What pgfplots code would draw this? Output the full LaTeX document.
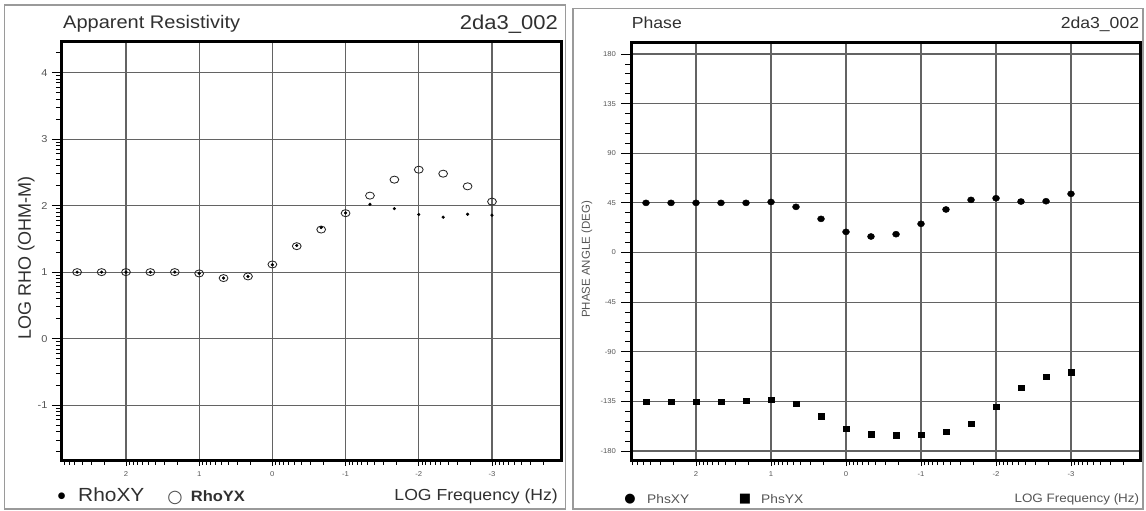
\documentclass[border=0pt]{standalone}
\usepackage{fontspec}
\usepackage{pgfplots}
\usepackage{pgfplotstable}
\pgfplotsset{compat=1.18}
\setmainfont{Liberation Sans}[FakeStretch=1.1]
\newfontfamily\uprightlabel{Liberation Sans}
\newfontfamily\symfont{DejaVu Sans}

\definecolor{titlegray}{HTML}{303030}
\definecolor{ticklab}{HTML}{555555}
\definecolor{gridgray}{HTML}{636363}
\definecolor{framegray}{HTML}{9A9A9A}

% apparent resistivity: log10 frequency, log10 rho (xy, yx)
\pgfplotstableread{
f       rxy     ryx
2.667   1.00    1.00
2.333   1.00    1.00
2.000   1.00    1.00
1.667   1.00    1.00
1.333   1.00    1.00
1.000   0.98    0.98
0.667   0.91    0.91
0.333   0.935   0.935
0.000   1.11    1.115
-0.333  1.40    1.39
-0.667  1.67    1.64
-1.000  1.89    1.886
-1.333  2.02    2.15
-1.667  1.955   2.39
-2.000  1.866   2.54
-2.333  1.826   2.48
-2.667  1.87    2.29
-3.000  1.856   2.06
}\rhotable

% phase in degrees (xy, yx)
\pgfplotstableread{
f       pxy     pyx
2.667   45.0    -135.3
2.333   45.0    -135.3
2.000   45.0    -135.3
1.667   45.0    -135.3
1.333   45.0    -134.6
1.000   45.8    -133.4
0.667   41.4    -137.4
0.333   30.5    -148.5
0.000   18.7    -160.0
-0.333  14.5    -164.8
-0.667  16.6    -165.7
-1.000  26.0    -165.2
-1.333  39.0    -162.7
-1.667  47.7    -154.9
-2.000  49.2    -139.5
-2.333  46.2    -122.5
-2.667  46.5    -112.6
-3.000  53.2    -108.6
}\phasetable

% heavy frame round the plotting area
\tikzset{heavyframe/.style={line width=3pt, black, line join=miter}}

\pgfplotsset{
  mtbase/.style={
    scale only axis,
    anchor=north west,
    x dir=reverse,
    clip=false,
    grid=major,
    major grid style={gridgray, line width=1.1pt},
    tick align=outside,
    xtick pos=lower, ytick pos=left,
    major tick length=10pt, minor tick length=6pt,
    tick style={black, line width=0.8pt},
    xtick style={/pgfplots/major tick length=5pt, /pgfplots/minor tick length=4pt},
    xtick={2,1,0,-1,-2,-3},
    xticklabels={2,1,0,-1,-2,-3},
    minor xtick={-3.699,-3.523,-3.398,-3.301,-3.222,-3.155,-3.097,-3.046,
                 -2.699,-2.523,-2.398,-2.301,-2.222,-2.155,-2.097,-2.046,
                 -1.699,-1.523,-1.398,-1.301,-1.222,-1.155,-1.097,-1.046,
                 -0.699,-0.523,-0.398,-0.301,-0.222,-0.155,-0.097,-0.046,
                 0.301,0.477,0.602,0.699,0.778,0.845,0.903,0.954,
                 1.301,1.477,1.602,1.699,1.778,1.845,1.903,1.954,
                 2.301,2.477,2.602,2.699,2.778,2.845},
    xticklabel style={font=\fontsize{7}{8}\selectfont, text=ticklab, yshift=2.5pt},
    yticklabel style={text=ticklab},
  },
}

\begin{document}
\begin{tikzpicture}[x=1pt,y=1pt]
\useasboundingbox (0pt,0pt) rectangle (1146pt,511pt);

% panel frames
\draw[framegray, line width=1.2pt] (4.5pt,506pt) rectangle (565.5pt,2pt);
\draw[framegray, line width=1.2pt] (573pt,502.7pt) rectangle (1143pt,2pt);

% ---------------- apparent resistivity ----------------
\begin{axis}[mtbase,
  at={(62pt,469pt)}, width=499pt, height=419pt,
  xmin=-3.943, xmax=2.874, ymin=-1.84, ymax=4.46,
  ytick={-1,0,1,2,3,4}, yticklabels={-1,0,1,2,3,4},
  minor ytick={-1.699,-1.523,-1.398,-1.301,-1.222,-1.155,-1.097,-1.046,
               -0.699,-0.523,-0.398,-0.301,-0.222,-0.155,-0.097,-0.046,
               0.301,0.477,0.602,0.699,0.778,0.845,0.903,0.954,
               1.301,1.477,1.602,1.699,1.778,1.845,1.903,1.954,
               2.301,2.477,2.602,2.699,2.778,2.845,2.903,2.954,
               3.301,3.477,3.602,3.699,3.778,3.845,3.903,3.954,
               4.301},
  yticklabel style={font=\fontsize{10}{12}\selectfont, xshift=-1pt},
]
\addplot[only marks, mark=o, mark size=4.4pt,
  mark options={black!85, line width=0.85pt, yscale=0.8}] table[x=f, y=ryx] \rhotable;
\addplot[only marks, mark=*, mark size=1.4pt, black] table[x=f, y=rxy] \rhotable;
\draw[heavyframe] (rel axis cs:0,0) rectangle (rel axis cs:1,1);
\end{axis}

\node[anchor=base west, inner sep=0pt, text=titlegray, font=\fontsize{18.2}{22}\selectfont]
  at (63pt,482.7pt) {Apparent Resistivity};
\node[anchor=base east, inner sep=0pt, text=titlegray, font=\fontsize{20}{24}\selectfont]
  at (558pt,481.7pt) {2da3\_002};
\node[rotate=90, inner sep=0pt, text=titlegray, font=\uprightlabel\fontsize{18}{20}\selectfont]
  at (26.3pt,253pt) {LOG RHO (OHM-M)};
\node[anchor=base east, inner sep=0pt, text=titlegray, font=\fontsize{16}{18}\selectfont]
  at (558pt,10.3pt) {LOG Frequency (Hz)};
\node[anchor=base, inner sep=0pt, text=black, font=\symfont\fontsize{8.7}{10}\selectfont]
  at (61.7pt,12.6pt) {●};
\node[anchor=base west, inner sep=0pt, text=titlegray, font=\fontsize{19}{22}\selectfont]
  at (78pt,9.3pt) {RhoXY};
\node[anchor=base, inner sep=0pt, text=black!70, font=\symfont\fontsize{17.5}{20}\selectfont]
  at (175pt,8.6pt) {○};
\node[anchor=base west, inner sep=0pt, text=titlegray, font=\bfseries\fontsize{15}{18}\selectfont]
  at (190.7pt,9.3pt) {RhoYX};

% ---------------- phase ----------------
\begin{axis}[mtbase,
  at={(631pt,468pt)}, width=509pt, height=418pt,
  xmin=-3.92, xmax=2.867, ymin=-189.1, ymax=190,
  ytick={-180,-135,-90,-45,0,45,90,135,180},
  yticklabels={-180,-135,-90,-45,0,45,90,135,180},
  minor y tick num=4,
  yticklabel style={font=\fontsize{7}{8}\selectfont, xshift=-1.5pt},
]
\addplot[only marks, mark=*, mark size=3.5pt, black,
  mark options={yscale=0.87}] table[x=f, y=pxy] \phasetable;
\addplot[only marks, mark=square*, mark size=3pt, black,
  mark options={yscale=0.85}] table[x=f, y=pyx] \phasetable;
\draw[heavyframe] (rel axis cs:0,0) rectangle (rel axis cs:1,1);
\end{axis}

\node[anchor=base west, inner sep=0pt, text=titlegray, font=\fontsize{16}{18}\selectfont]
  at (631.7pt,482.7pt) {Phase};
\node[anchor=base east, inner sep=0pt, text=titlegray, font=\fontsize{16}{18}\selectfont]
  at (1139.3pt,482.7pt) {2da3\_002};
\node[rotate=90, inner sep=0pt, text=ticklab, font=\uprightlabel\fontsize{11.5}{13}\selectfont]
  at (587pt,251.5pt) {PHASE ANGLE (DEG)};
\node[anchor=base east, inner sep=0pt, text=ticklab, font=\fontsize{12.2}{14}\selectfont]
  at (1139.3pt,8.5pt) {LOG Frequency (Hz)};
\node[anchor=base, inner sep=0pt, text=black, font=\symfont\fontsize{13}{15}\selectfont]
  at (630pt,8pt) {●};
\node[anchor=base west, inner sep=0pt, text=ticklab, font=\fontsize{12.5}{14}\selectfont]
  at (647pt,7.7pt) {PhsXY};
\node[anchor=base, inner sep=0pt, text=black, font=\symfont\fontsize{13}{15}\selectfont]
  at (745pt,8pt) {■};
\node[anchor=base west, inner sep=0pt, text=ticklab, font=\fontsize{12.5}{14}\selectfont]
  at (761pt,7.7pt) {PhsYX};
\end{tikzpicture}
\end{document}
